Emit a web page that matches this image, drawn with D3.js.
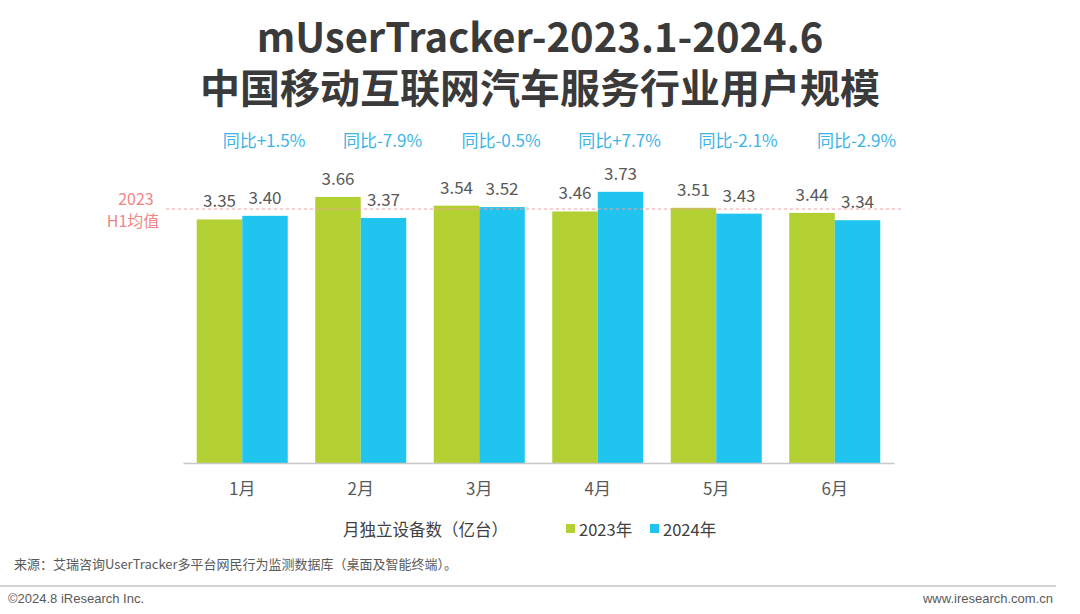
<!DOCTYPE html>
<html><head><meta charset="utf-8">
<script src="https://cdn.jsdelivr.net/npm/d3@7"></script>
<style>
html,body{margin:0;padding:0;background:#fff;}
text{font-family:"Noto Sans CJK SC","Noto Sans",sans-serif;}
</style></head>
<body>
<svg id="c" width="1080" height="614"></svg>
<script>
const months = ["1月","2月","3月","4月","5月","6月"];
const series = ["2023年","2024年"];
const values2023 = [3.35,3.66,3.54,3.46,3.51,3.44];
const values2024 = [3.40,3.37,3.52,3.73,3.43,3.34];
const yoyLabels = ["同比+1.5%","同比-7.9%","同比-0.5%","同比+7.7%","同比-2.1%","同比-2.9%"];
const titleLines = ["mUserTracker-2023.1-2024.6","中国移动互联网汽车服务行业用户规模"];
const colors = ["#b3d033","#20c5ef"];

const svg = d3.select("#c");
const x = d3.scaleBand().domain(months).range([183,894]).paddingInner(0.232).paddingOuter(0.116);
const x1 = d3.scaleBand().domain(series).range([0,x.bandwidth()]);
const y = d3.scaleLinear().domain([0,4]).range([463,463-72.7*4]);

// title (one text block with two lines)
const title = svg.append("text").attr("x",540).attr("y",52).attr("text-anchor","middle")
  .attr("font-size",40).attr("font-weight","bold").attr("fill","#3a3a3a");
title.selectAll("tspan").data(titleLines).join("tspan")
  .attr("x",540).attr("dy",(d,i)=>i===0?0:51).text(d=>d);

const data = months.map((m,i)=>({m, vals:[values2023[i],values2024[i]], yoy:yoyLabels[i]}));

const g = svg.append("g");
const groups = g.selectAll("g.grp").data(data).join("g").attr("transform",d=>`translate(${x(d.m)},0)`);
groups.selectAll("rect").data(d=>d.vals.map((v,j)=>({v,s:series[j],j}))).join("rect")
  .attr("x",d=>x1(d.s)).attr("width",x1.bandwidth()).attr("y",d=>y(d.v)).attr("height",d=>y(0)-y(d.v))
  .attr("fill",d=>colors[d.j]);
groups.selectAll("text.val").data(d=>d.vals.map((v,j)=>({v,s:series[j]}))).join("text")
  .attr("class","val").attr("x",d=>x1(d.s)+x1.bandwidth()/2).attr("y",d=>y(d.v)-12)
  .attr("text-anchor","middle").attr("font-size",17).attr("fill","#595959").text(d=>d.v.toFixed(2));
groups.append("text").attr("x",x1("2024年")+x1.bandwidth()/2 - 1).attr("y",147)
  .attr("text-anchor","middle").attr("font-size",17).attr("fill","#3cb4e6").text(d=>d.yoy);

// average line
const avg = d3.mean(values2023);
svg.append("line").attr("x1",166).attr("x2",902).attr("y1",y(avg)).attr("y2",y(avg))
  .attr("stroke","#f2a0a0").attr("stroke-width",1).attr("stroke-dasharray","3,3");
svg.append("text").attr("x",136).attr("y",205).attr("text-anchor","middle").attr("font-size",16).attr("fill","#ef8585").text("2023");
svg.append("text").attr("x",133).attr("y",227).attr("text-anchor","middle").attr("font-size",16).attr("fill","#ef8585").text("H1均值");

// x axis
const ax = svg.append("g").attr("transform",`translate(0,${y(0)})`)
  .call(d3.axisBottom(x).tickSize(0).tickPadding(20));
ax.select(".domain").attr("stroke","#c8c8c8").attr("stroke-width",1.5);
ax.selectAll("text").attr("font-size",17).attr("fill","#595959").attr("font-family",'"Noto Sans CJK SC",sans-serif');

// legend
svg.append("text").attr("x",508).attr("y",536).attr("text-anchor","end").attr("font-size",16.5).attr("fill","#404040").text("月独立设备数（亿台）");
const lx = [566,650];
series.forEach((s,i)=>{
  svg.append("rect").attr("x",lx[i]).attr("y",524).attr("width",9).attr("height",9).attr("fill",colors[i]);
  svg.append("text").attr("x",lx[i]+13).attr("y",536).attr("font-size",16.5).attr("fill","#404040").text(s);
});

// footer
svg.append("text").attr("x",14).attr("y",569).attr("font-size",13).attr("fill","#595959").text("来源：艾瑞咨询UserTracker多平台网民行为监测数据库（桌面及智能终端）。");
svg.append("line").attr("x1",0).attr("x2",1056).attr("y1",586).attr("y2",586).attr("stroke","#a6a6a6").attr("stroke-width",1);
svg.append("text").attr("x",8).attr("y",603).attr("font-size",13).attr("fill","#595959").style("font-family","Liberation Sans, Arial, sans-serif").text("©2024.8 iResearch Inc.");
svg.append("text").attr("x",1053).attr("y",603).attr("text-anchor","end").attr("font-size",13).attr("fill","#595959").style("font-family","Liberation Sans, Arial, sans-serif").text("www.iresearch.com.cn");
</script>
</body></html>
